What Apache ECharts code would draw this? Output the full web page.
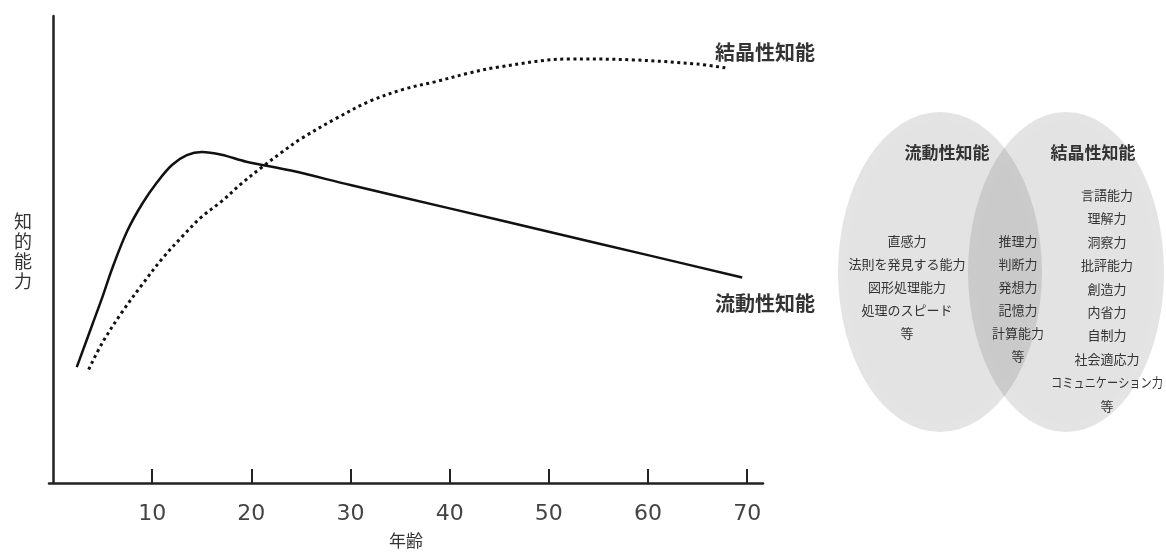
<!DOCTYPE html>
<html>
<head>
<meta charset="utf-8">
<script src="https://cdn.jsdelivr.net/npm/echarts@6/dist/echarts.min.js"></script>
<style>
html,body{margin:0;padding:0;background:#fff;}
#chart{width:1166px;height:554px;}
</style>
</head>
<body>
<div id="chart"></div>
<script>
// ---- data ----
const xTicks = [10, 20, 30, 40, 50, 60, 70];
const fluidAges = [2.4, 4, 5, 6, 7.5, 9, 10.5, 12, 13.5, 15, 17, 19.5, 24, 30, 40, 50, 60, 69.5];
const fluidValues = [24.8, 34.1, 39.9, 46.1, 54.0, 59.8, 64.4, 68.1, 70.2, 70.9, 70.3, 68.8, 66.9, 63.8, 58.8, 53.8, 48.8, 44.0];
const crystalAges = [3.6, 5, 7, 9, 11, 13, 15, 17, 19, 21, 23, 25, 28.5, 32, 35.5, 38.5, 42, 45, 52, 58.5, 65, 67.8];
const crystalValues = [24.3, 30.1, 36.7, 42.5, 48.0, 52.7, 57.0, 60.3, 64.1, 67.5, 70.7, 73.7, 78.0, 81.8, 84.4, 85.9, 87.8, 89.1, 90.8, 90.6, 89.7, 88.9];
const seriesNames = ['流動性知能', '結晶性知能'];
const xName = '年齢';
const yName = '知的能力';
const vennTitles = ['流動性知能', '結晶性知能'];
const fluidAbilities = ['直感力', '法則を発見する能力', '図形処理能力', '処理のスピード', '等'];
const sharedAbilities = ['推理力', '判断力', '発想力', '記憶力', '計算能力', '等'];
const crystalAbilities = ['言語能力', '理解力', '洞察力', '批評能力', '創造力', '内省力', '自制力', '社会適応力', 'コミュニケーション力', '等'];

const JP = "'Noto Sans CJK JP', 'Noto Sans', sans-serif";
const zip = (a, b) => a.map((v, i) => [v, b[i]]);

const graphics = [];
// Venn ellipses
[[940, 272, 102, 160], [1066, 272, 98, 160]].forEach(e => {
  graphics.push({
    type: 'circle', x: e[0], y: e[1], scaleX: e[2] / e[3], scaleY: 1,
    shape: { cx: 0, cy: 0, r: e[3] },
    style: { fill: 'rgba(0,0,0,0.10)', shadowBlur: 6, shadowColor: 'rgba(0,0,0,0.08)' },
    z: 1
  });
});
function addText(t, x, y, size, weight, color, sx) {
  graphics.push({
    type: 'text', x: x, y: y, z: 5, scaleX: sx || 1,
    style: { text: t, align: 'center', verticalAlign: 'middle', textAlign: 'center', textVerticalAlign: 'middle',
      fontFamily: JP, fontSize: size, fontWeight: weight, fill: color }
  });
}
addText(vennTitles[0], 947, 153, 17, 'bold', '#333');
addText(vennTitles[1], 1093, 153, 17, 'bold', '#333');
fluidAbilities.forEach((t, i) => addText(t, 907, 241 + i * 23, 13, 'normal', '#333'));
sharedAbilities.forEach((t, i) => addText(t, 1018, 241 + i * 23, 13, 'normal', '#333'));
crystalAbilities.forEach((t, i) => addText(t, 1107, 195 + i * 23.4, 13, 'normal', '#333', t.length > 6 ? 0.86 : 1));
// series labels
addText(seriesNames[1], 765, 52, 20, 'bold', '#333');
addText(seriesNames[0], 765, 303, 20, 'bold', '#333');
// y axis name (vertical)
graphics.push({
  type: 'text', x: 23, y: 251, z: 5,
  style: { text: yName.split('').join('\n'), align: 'center', verticalAlign: 'middle', textAlign: 'center', textVerticalAlign: 'middle',
    fontFamily: JP, fontSize: 18, lineHeight: 20, fill: '#333' }
});

const chart = echarts.init(document.getElementById('chart'), null, { renderer: 'canvas' });
chart.setOption({
  animation: false,
  backgroundColor: '#fff',
  grid: { left: 49, right: 403, top: 16, bottom: 68, containLabel: false },
  xAxis: {
    type: 'value', min: -0.4, max: 71.6,
    name: xName, nameLocation: 'middle', nameGap: 49,
    nameTextStyle: { fontFamily: JP, fontSize: 17, color: '#333' },
    axisLine: { show: true, lineStyle: { color: '#222', width: 2.5 } },
    axisTick: { show: true, inside: true, length: 14, customValues: xTicks, lineStyle: { color: '#222', width: 2 } },
    axisLabel: { show: true, customValues: xTicks, margin: 20, fontFamily: "'DejaVu Sans', sans-serif", fontSize: 22, color: '#444' },
    splitLine: { show: false }
  },
  yAxis: {
    type: 'value', min: 0, max: 100,
    axisLine: { show: true, lineStyle: { color: '#222', width: 2.5 } },
    axisTick: { show: false }, axisLabel: { show: false }, splitLine: { show: false }
  },
  series: [
    {
      name: seriesNames[0], type: 'line', data: zip(fluidAges, fluidValues),
      smooth: 0.35, showSymbol: false, symbol: 'none',
      lineStyle: { color: '#111', width: 2.5 }, z: 3
    },
    {
      name: seriesNames[1], type: 'line', data: zip(crystalAges, crystalValues),
      smooth: 0.35, showSymbol: false, symbol: 'none',
      lineStyle: { color: '#111', width: 3, type: [3, 3.5], cap: 'butt' }, z: 3
    }
  ],
  graphic: graphics
});
</script>
</body>
</html>
